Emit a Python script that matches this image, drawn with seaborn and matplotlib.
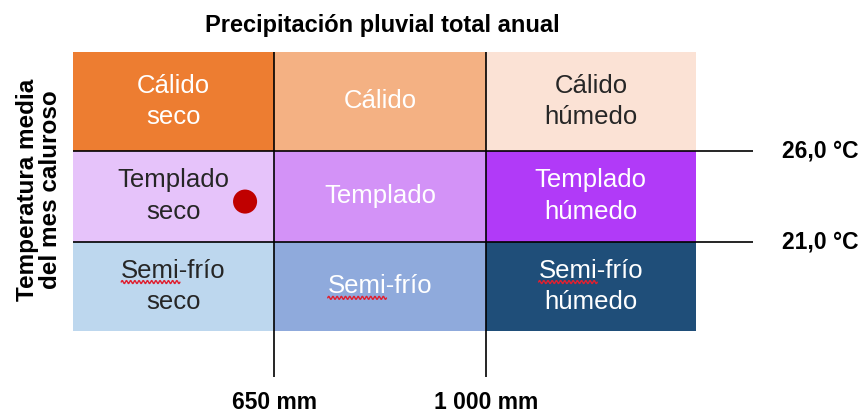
import numpy as np
import pandas as pd
import matplotlib
matplotlib.use("Agg")
import matplotlib.pyplot as plt
from matplotlib.colors import ListedColormap
from matplotlib.lines import Line2D
from matplotlib.transforms import IdentityTransform
import seaborn as sns

# ---- data ----
filas = ["Cálido", "Templado", "Semi-frío"]
columnas = ["seco", "intermedio", "húmedo"]
etiquetas = [["Cálido\nseco", "Cálido", "Cálido\nhúmedo"],
             ["Templado\nseco", "Templado", "Templado\nhúmedo"],
             ["Semi-frío\nseco", "Semi-frío", "Semi-frío\nhúmedo"]]
colores = ["#ED7D31", "#F4B183", "#FBE2D5",
           "#E6C3FA", "#D392F7", "#B13AF8",
           "#BDD7EE", "#8FAADC", "#1F4E79"]
color_texto = ["white", "white", "#262626",
               "#262626", "white", "white",
               "#262626", "white", "white"]
umbrales_temp = ["26,0 °C", "21,0 °C"]
umbrales_precip = ["650 mm", "1 000 mm"]
punto_x = [0.855]
punto_y = [1.56]

titulo = "Precipitación pluvial total anual"
etiqueta_y = "Temperatura media\ndel mes caluroso"

# ---- layout (pixels of the 864x415 canvas) ----
W, H = 864, 415
x0, x1, x2, x3 = 72.7, 274.3, 485.7, 696.0
y0, y1, y2, y3 = 52.3, 150.5, 241.7, 331.0

def escala(bordes):
    rel = np.array(bordes) - bordes[0]
    b = np.array([-10.0, 0, 1, 2, 3, 13.0])
    v = np.concatenate([[rel[0] - 10 * (rel[1] - rel[0])], rel,
                        [rel[3] + 10 * (rel[3] - rel[2])]])
    return (lambda t: np.interp(t, b, v)), (lambda t: np.interp(t, v, b))

fx, fxi = escala([x0, x1, x2, x3])
fy, fyi = escala([y0, y1, y2, y3])

# ---- style ----
sns.set_theme(style="white")
plt.rcParams['font.family'] = ['Liberation Sans', 'DejaVu Sans']

fig = plt.figure(figsize=(W / 100, H / 100), dpi=100)
ax = fig.add_axes([x0 / W, 1 - y3 / H, (x3 - x0) / W, (y3 - y0) / H])

codigos = pd.DataFrame(np.arange(9).reshape(3, 3), index=filas, columns=columnas)
sns.heatmap(codigos, ax=ax, cmap=ListedColormap(colores), vmin=-0.5, vmax=8.5,
            cbar=False, annot=np.array(etiquetas), fmt="",
            annot_kws={"fontsize": 18.5, "linespacing": 1.4},
            xticklabels=False, yticklabels=False)

ax.set_xscale("function", functions=(fx, fxi))
ax.set_yscale("function", functions=(fy, fyi))
ax.set_xlim(0, 3)
ax.set_ylim(3, 0)
ax.set_xticks([])
ax.set_yticks([])
ax.tick_params(left=False, bottom=False)
for s in ax.spines.values():
    s.set_visible(False)

celdas = list(ax.texts)
for t, c in zip(celdas, color_texto):
    t.set_color(c)

# threshold lines
ax.vlines([1, 2], 0, fyi(376.7 - y0), color="black", lw=1.2, clip_on=False, zorder=3)
ax.hlines([1, 2], 0, fxi(752.7 - x0), color="black", lw=1.2, clip_on=False, zorder=3)

for i, lab in enumerate(umbrales_temp):
    ax.text(fxi(782 - x0), i + 1, lab, ha="left", va="center", fontsize=16.5,
            fontweight="bold", color="black", clip_on=False)
for i, lab in enumerate(umbrales_precip):
    ax.text(i + 1, fyi(402 - y0), lab, ha="center", va="center", fontsize=16.5,
            fontweight="bold", color="black", clip_on=False)

fig.text(382 / W, 1 - 32 / H, titulo, ha="center", va="baseline", fontsize=17,
         fontweight="bold", color="black")
fig.text(39 / W, 1 - 190 / H, etiqueta_y, ha="center", va="center", rotation=90,
         fontsize=17.5, fontweight="bold", color="black", multialignment="center",
         linespacing=1.0)

sns.scatterplot(x=punto_x, y=punto_y, ax=ax, s=300, color="#C00000",
                edgecolor="none", zorder=4, legend=False)
ax.set_xlim(0, 3)
ax.set_ylim(3, 0)
ax.set_xlabel("")
ax.set_ylabel("")

# red spell-check squiggle under "Semi"
fig.canvas.draw()
rend = fig.canvas.get_renderer()
for t in celdas:
    s = t.get_text()
    if not s.startswith("Semi"):
        continue
    fp = t.get_fontproperties()
    primera = s.split("\n")[0]
    wl, hl, dl = rend.get_text_width_height_descent(primera, fp, ismath=False)
    ws, _, _ = rend.get_text_width_height_descent("Semi", fp, ismath=False)
    bb = t.get_window_extent(rend)
    izq = (bb.x0 + bb.x1) / 2 - wl / 2
    base = bb.y1 - (hl - dl)
    xs = np.linspace(izq, izq + ws, 160)
    ys = base - 4.5 + 1.5 * np.sin((xs - izq) * 2 * np.pi / 4.2)
    fig.add_artist(Line2D(xs, ys, transform=IdentityTransform(), color="#E02030",
                          lw=1.0, zorder=6))

fig.savefig("out.png", dpi=100)
